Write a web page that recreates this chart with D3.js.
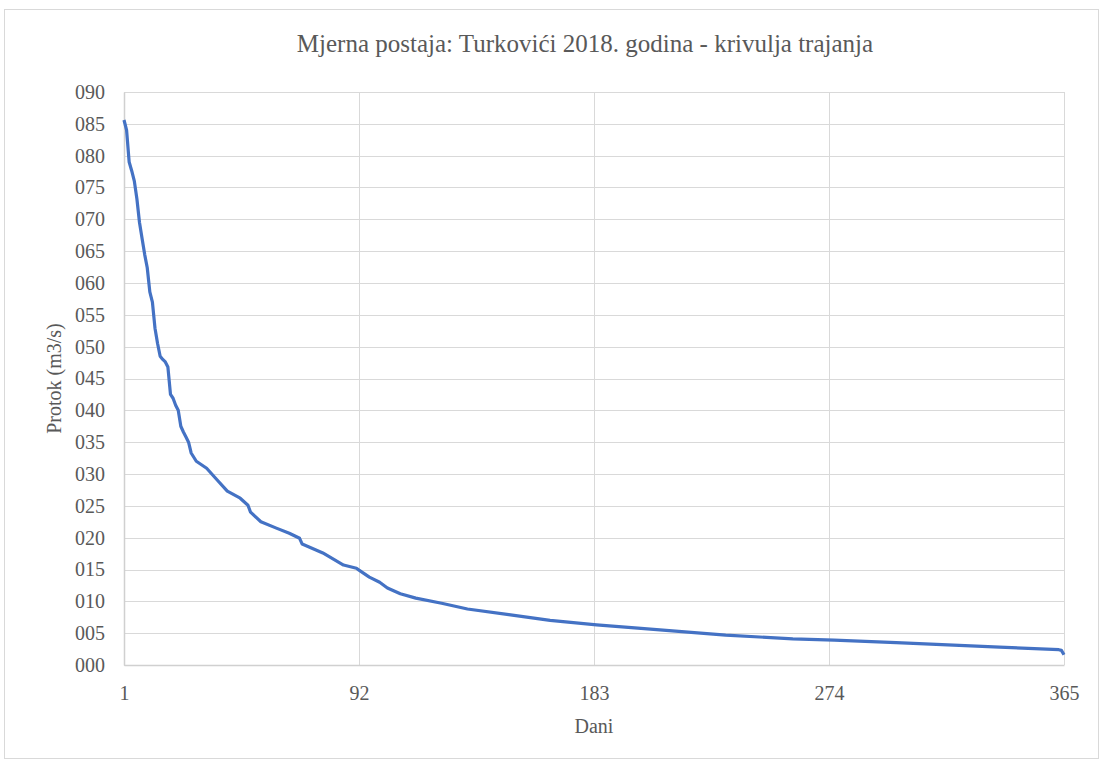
<!DOCTYPE html>
<html>
<head>
<meta charset="utf-8">
<script src="https://cdn.jsdelivr.net/npm/d3@7"></script>
<style>
  body { margin: 0; background: #fff; }
</style>
</head>
<body>
<svg width="1102" height="762"></svg>
<script>
// duration curve (day, flow)
var days  = [1, 2, 3, 4, 5, 6, 7, 8, 9, 10, 11, 12, 13, 14, 15, 16, 17, 18, 19, 20,
             21, 22, 23, 24, 25, 26, 27, 29, 33, 37, 41, 46, 49, 50, 54, 60, 65, 69, 70, 78,
             86, 91, 92, 96, 100, 103, 108, 114, 124, 134, 150, 166, 184, 200, 234, 260, 276, 300, 340, 363,
             364, 365];
var flows = [85.6, 84.0, 79.0, 77.6, 76.0, 73.2, 69.5, 67.0, 64.5, 62.4, 58.6, 57.0, 52.9, 50.5, 48.5, 48.0, 47.6, 46.8, 42.5, 41.9,
             40.8, 40.0, 37.5, 36.6, 35.8, 35.0, 33.3, 32.0, 30.9, 29.1, 27.3, 26.2, 25.1, 24.0, 22.5, 21.5, 20.7, 19.9, 19.0, 17.6,
             15.7, 15.2, 14.9, 13.8, 13.0, 12.1, 11.2, 10.5, 9.7, 8.8, 7.9, 7.0, 6.3, 5.8, 4.7, 4.1, 3.9, 3.5, 2.8, 2.4,
             2.3, 1.6];

var xTicks = [1, 92, 183, 274, 365];
var yTicks = d3.range(0, 91, 5);

var title = "Mjerna postaja: Turkovići 2018. godina - krivulja trajanja";
var xTitle = "Dani";
var yTitle = "Protok (m3/s)";

var serif = "'Times New Roman', Times, 'Liberation Serif', 'DejaVu Serif', serif";
var grey = "#595959";

var svg = d3.select("svg");
var margin = {left: 124, right: 38, top: 92, bottom: 97};
var width = 1102 - margin.left - margin.right,
    height = 762 - margin.top - margin.bottom;

// chart border
svg.append("rect")
  .attr("x", 4.5).attr("y", 9.5)
  .attr("width", 1094).attr("height", 749)
  .attr("fill", "#fff")
  .attr("stroke", "#d9d9d9");

var g = svg.append("g").attr("transform", "translate(" + margin.left + "," + margin.top + ")");

var x = d3.scaleLinear().domain([1, 365]).range([0, width]);
var y = d3.scaleLinear().domain([0, 90]).range([height, 0]);

// horizontal grid
g.selectAll(".hgrid")
  .data(yTicks)
  .enter().append("line")
    .attr("class", "hgrid")
    .attr("x1", 0).attr("x2", width)
    .attr("y1", function(d) { return Math.round(y(d)) + 0.5; })
    .attr("y2", function(d) { return Math.round(y(d)) + 0.5; })
    .attr("stroke", "#d9d9d9");

// vertical grid
g.selectAll(".vgrid")
  .data(xTicks)
  .enter().append("line")
    .attr("class", "vgrid")
    .attr("y1", 0).attr("y2", height)
    .attr("x1", function(d) { return Math.round(x(d)) + 0.5; })
    .attr("x2", function(d) { return Math.round(x(d)) + 0.5; })
    .attr("stroke", "#d9d9d9");

// axes
var yAxis = g.append("g")
  .call(d3.axisLeft(y).tickValues(yTicks).tickSize(0).tickPadding(19).tickFormat(d3.format("03d")));
var xAxis = g.append("g")
  .attr("transform", "translate(0," + height + ")")
  .call(d3.axisBottom(x).tickValues(xTicks).tickSize(0).tickPadding(21).tickFormat(d3.format("d")));

[xAxis, yAxis].forEach(function(a) {
  a.attr("font-family", serif).attr("font-size", 20);
  a.select(".domain").attr("stroke", "#d0d0d0").attr("stroke-width", 1.5);
  a.selectAll("text").attr("fill", grey);
});

var line = d3.line()
  .x(function(d, i) { return x(days[i]); })
  .y(function(d) { return y(d); });

g.append("path")
  .datum(flows)
  .attr("d", line)
  .attr("fill", "none")
  .attr("stroke", "#4472c4")
  .attr("stroke-width", 3.2)
  .attr("stroke-linejoin", "round");

// titles
svg.append("text")
  .attr("x", 585).attr("y", 52)
  .attr("text-anchor", "middle")
  .attr("font-family", serif)
  .attr("font-size", 25)
  .attr("fill", grey)
  .text(title);

svg.append("text")
  .attr("x", margin.left + width / 2).attr("y", 733)
  .attr("text-anchor", "middle")
  .attr("font-family", serif)
  .attr("font-size", 20)
  .attr("fill", grey)
  .text(xTitle);

svg.append("text")
  .attr("transform", "translate(61," + (margin.top + height / 2) + ") rotate(-90)")
  .attr("text-anchor", "middle")
  .attr("font-family", serif)
  .attr("font-size", 20)
  .attr("fill", grey)
  .text(yTitle);
</script>
</body>
</html>
